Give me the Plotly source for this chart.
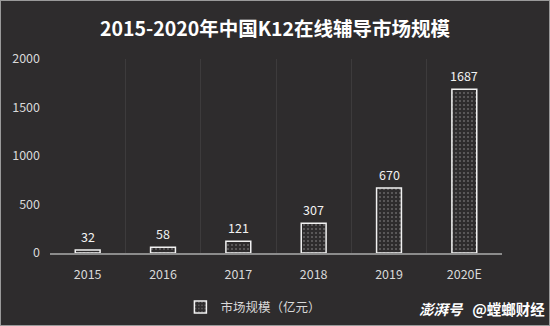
import plotly.graph_objects as go

years = ["2015", "2016", "2017", "2018", "2019", "2020E"]
market_size = [32, 58, 121, 307, 670, 1687]
y_ticks = [0, 500, 1000, 1500, 2000]

FONT = "Noto Sans CJK SC"
BG = "#2e2c2d"

fig = go.Figure()
fig.add_trace(go.Bar(
    x=years,
    y=market_size,
    name="市场规模（亿元）",
    width=0.33,
    marker=dict(
        color=BG,
        line=dict(color="#f2f2f2", width=1.5),
        pattern=dict(shape=".", fgcolor="#a0a0a0", bgcolor=BG, size=4, solidity=0.2),
    ),
))

# value labels above each bar (positioned by category index)
for i, v in enumerate(market_size):
    fig.add_annotation(x=i, y=v, text=str(v), showarrow=False, yanchor="bottom",
                       yshift=2, font=dict(color="#f2f2f2", size=12.5, family=FONT))

# watermark text bottom right
fig.add_annotation(xref="paper", yref="paper", x=1.1, y=-0.285, xanchor="right", yanchor="middle",
                   text="<b><i>澎湃号</i></b>   <b>@螳螂财经</b>", showarrow=False,
                   font=dict(color="#ffffff", size=14.5, family=FONT))

fig.update_layout(
    width=550, height=326,
    margin=dict(l=50, r=48, t=59, b=73, autoexpand=False),
    paper_bgcolor=BG, plot_bgcolor=BG,
    font=dict(family=FONT, color="#d9d9d9", size=12),
    title=dict(text="<b>2015-2020年中国K12在线辅导市场规模</b>", x=0.5, xanchor="center",
               y=0.91, yanchor="middle", font=dict(size=19.5, color="#ffffff", family=FONT)),
    showlegend=True,
    legend=dict(orientation="h", x=0.45, xanchor="center", y=-0.28, yanchor="middle",
                font=dict(size=12.5, color="#d9d9d9", family=FONT), bgcolor="rgba(0,0,0,0)",
                itemwidth=30),
    xaxis=dict(type="category", range=[-0.5, 5.5], tickson="boundaries", showgrid=True,
               gridcolor="#3d3b3c", gridwidth=1, showline=True, linecolor="#8c8c8c",
               linewidth=1.5, ticks="", ticklen=0, tickangle=0, ticklabelstandoff=9,
               tickfont=dict(size=12.5, color="#d9d9d9")),
    yaxis=dict(range=[0, 2000], tickvals=y_ticks, showgrid=False, zeroline=False,
               showline=False, ticks="", ticklabelstandoff=9,
               tickfont=dict(size=12.5, color="#d9d9d9")),
    shapes=[dict(type="rect", xref="paper", yref="paper", x0=-50/452, x1=1+48/452,
                 y0=-73/194, y1=1+59/194, line=dict(color="#9a9a9a", width=2))],
)

fig.write_html("out.html")
